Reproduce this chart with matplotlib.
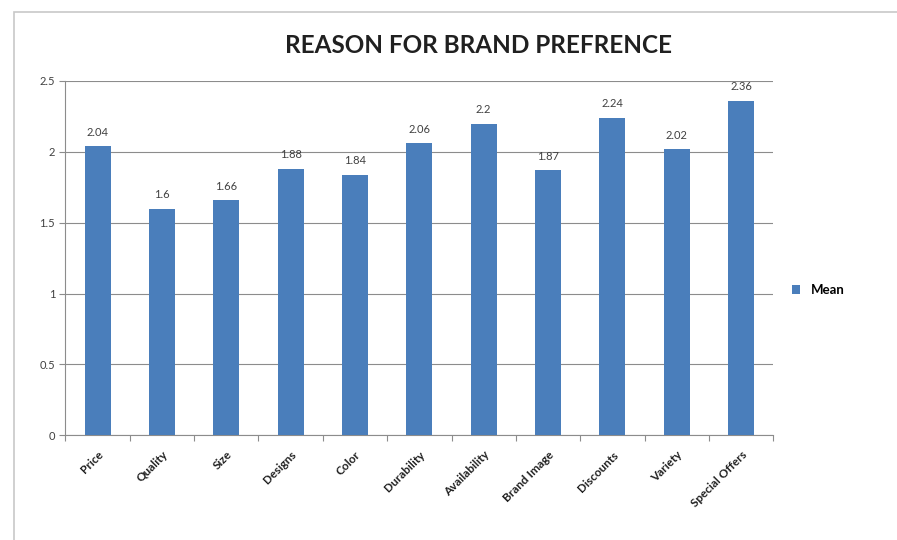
import numpy as np
import matplotlib.pyplot as plt
from matplotlib.patches import Rectangle

# data
reasons = ['Price', 'Quality', 'Size', 'Designs', 'Color', 'Durability',
           'Availability', 'Brand Image', 'Discounts', 'Variety', 'Special Offers']
mean = [2.04, 1.6, 1.66, 1.88, 1.84, 2.06, 2.2, 1.87, 2.24, 2.02, 2.36]
yticks = [0, 0.5, 1, 1.5, 2, 2.5]
ytick_labels = ['0', '0.5', '1', '1.5', '2', '2.5']

plt.rcParams['font.family'] = ['Lato', 'DejaVu Sans']

fig = plt.figure(figsize=(8.97, 5.4), dpi=100)
ax = fig.add_axes([0.073, 0.194, 0.789, 0.656])

# light outer frame of the chart area (runs off the right and bottom edges)
fig.patches.append(Rectangle((14/897, -0.05), 1.1, 1.05 - 12/540, transform=fig.transFigure,
                             fill=False, edgecolor='#c8c8c8', linewidth=1.2))

x = np.arange(len(reasons))
ax.bar(x, mean, width=0.40, color='#4a7ebb', label='Mean', zorder=3)
for xi, v in zip(x, mean):
    ax.text(xi, v + 0.06, '%g' % v, ha='center', va='bottom', fontsize=8, color='#404040')

ax.set_xlim(-0.5, len(reasons) - 0.5)
ax.set_ylim(0, 2.5)
ax.set_yticks(yticks)
ax.set_yticklabels(ytick_labels, fontsize=8, color='#404040')
ax.yaxis.grid(True, color='#8c8c8c', linewidth=0.8, zorder=0)
ax.tick_params(axis='y', length=4, color='#8c8c8c')

# category ticks between bars, labels at bar centers
ax.set_xticks(np.arange(-0.5, len(reasons), 1.0))
ax.set_xticklabels([])
ax.set_xticks(x, minor=True)
ax.set_xticklabels(reasons, minor=True, rotation=45, ha='right', rotation_mode='anchor',
                   fontsize=8.5, fontweight='bold', color='#202020')
ax.tick_params(axis='x', which='major', length=4, color='#8c8c8c')
ax.tick_params(axis='x', which='minor', length=0, pad=10)

for s in ['top', 'right']:
    ax.spines[s].set_visible(False)
ax.spines['left'].set_color('#8c8c8c')
ax.spines['bottom'].set_color('#8c8c8c')

fig.text(0.533, 0.915, 'REASON FOR BRAND PREFRENCE', ha='center', va='center',
         fontsize=17.5, fontweight='bold', color='#202020')

ax.legend(loc='center left', bbox_to_anchor=(1.01, 0.41), frameon=False,
          handlelength=0.6, handleheight=0.6, prop={'weight': 'bold', 'size': 9.5})

fig.savefig('out.png')
